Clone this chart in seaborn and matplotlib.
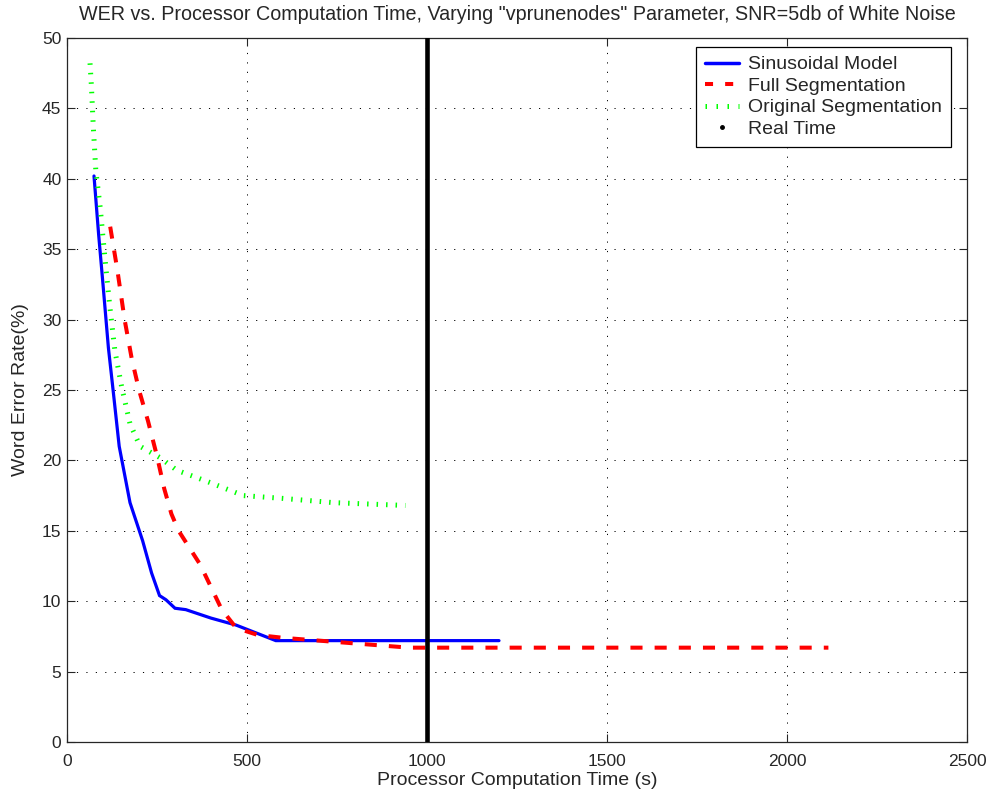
import matplotlib
matplotlib.use("Agg")
import matplotlib.pyplot as plt
import seaborn as sns
import pandas as pd
from matplotlib.lines import Line2D

# ---- data ----
sin_x = [75, 88, 100, 115, 128, 145, 175, 210, 235, 257, 275, 300, 330, 400, 470, 530, 580, 1200]
sin_y = [40.2, 36, 32.5, 28, 25, 21, 17, 14.3, 12, 10.4, 10.1, 9.5, 9.4, 8.8, 8.3, 7.7, 7.2, 7.2]

full_x = [120, 140, 160, 180, 200, 225, 250, 270, 290, 310, 370, 430, 470, 530, 600, 700, 800, 950, 2115]
full_y = [36.6, 33.5, 30, 27.2, 25, 22.8, 20.3, 18, 16.2, 15, 12.6, 9.4, 8.1, 7.6, 7.4, 7.2, 7.0, 6.7, 6.7]

orig_x = [64, 68, 73, 80, 92, 106, 119, 133, 152, 175, 203, 258, 305, 400, 490, 600, 740, 940]
orig_y = [48.2, 46.5, 43.7, 40.6, 38, 34.2, 30.9, 27.8, 25.2, 22.6, 21, 20.2, 19.3, 18.4, 17.5, 17.3, 17.0, 16.8]

real_time_x = 1000

labels = ["Sinusoidal Model", "Full Segmentation", "Original Segmentation", "Real Time"]
x_ticks = [0, 500, 1000, 1500, 2000, 2500]
y_ticks = [0, 5, 10, 15, 20, 25, 30, 35, 40, 45, 50]

sns.set_style("ticks")
plt.rcParams['font.family'] = ['Liberation Sans', 'DejaVu Sans']

fig = plt.figure(figsize=(9.88, 8.0), dpi=100)
ax = fig.add_axes([67/988, 1 - 742/800, 900/988, 704/800])

df_sin = pd.DataFrame({"x": sin_x, "y": sin_y})
df_full = pd.DataFrame({"x": full_x, "y": full_y})
df_orig = pd.DataFrame({"x": orig_x, "y": orig_y})

sns.lineplot(data=df_sin, x="x", y="y", ax=ax, color=(0, 0, 1), linewidth=2.3,
             sort=False, estimator=None, solid_joinstyle="miter")
sns.lineplot(data=df_full, x="x", y="y", ax=ax, color=(1, 0, 0), linewidth=2.9,
             sort=False, estimator=None)
ax.lines[-1].set_dashes((3, 3))
ax.lines[-1].set_dash_capstyle("butt")
sns.lineplot(data=df_orig, x="x", y="y", ax=ax, color=(0, 1, 0), linewidth=3.6,
             sort=False, estimator=None)
ax.lines[-1].set_dashes((0.3, 1.6))
ax.lines[-1].set_dash_capstyle("butt")
ax.axvline(real_time_x, color="black", linewidth=3.3, zorder=3)

ax.set_xlim(0, 2500)
ax.set_ylim(0, 50)
ax.set_xticks(x_ticks)
ax.set_yticks(y_ticks)
ax.tick_params(direction="in", length=6, width=0.8, labelsize=12.5, top=True, right=True)
ax.tick_params(axis="x", pad=9)
ax.tick_params(axis="y", pad=4)
ax.grid(True, color="black", linestyle=(0, (1.2, 8.5)), linewidth=0.7)
for s in ax.spines.values():
    s.set_linewidth(0.9)
    s.set_visible(True)

ax.set_xlabel("Processor Computation Time (s)", fontsize=14, labelpad=2)
ax.set_ylabel("Word Error Rate(%)", fontsize=14, labelpad=9)
ax.set_title('WER vs. Processor Computation Time, Varying "vprunenodes" Parameter, SNR=5db of White Noise',
             fontsize=14.2, pad=13)

handles = [
    Line2D([], [], color=(0, 0, 1), linewidth=2.5),
    Line2D([], [], color=(1, 0, 0), linewidth=2.9, dashes=(2.0, 3.0), dash_capstyle="butt"),
    Line2D([], [], color=(0, 1, 0), linewidth=3.6, dashes=(0.3, 1.9), dash_capstyle="butt"),
    Line2D([], [], color="black", linestyle="none", marker=".", markersize=5),
]
leg = ax.legend(handles, labels, loc="upper right", fontsize=14, frameon=True, fancybox=False,
                edgecolor="black", framealpha=1,
                bbox_to_anchor=(951/988, 1 - 47/800), bbox_transform=fig.transFigure,
                borderaxespad=0, handlelength=1.75, handletextpad=0.5,
                labelspacing=0.2, borderpad=0.45)
leg.get_frame().set_linewidth(0.9)

fig.savefig("out.png", dpi=100)
